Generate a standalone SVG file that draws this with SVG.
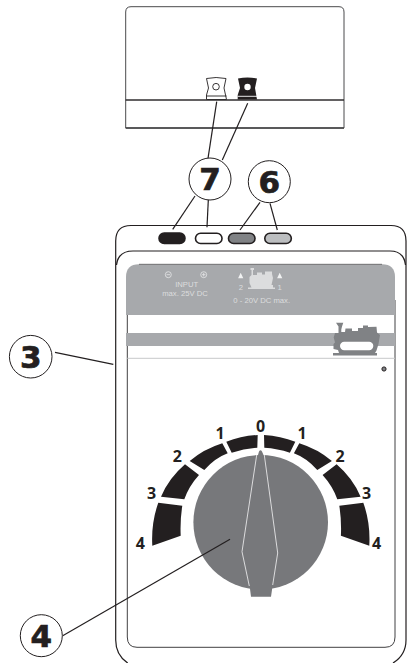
<svg xmlns="http://www.w3.org/2000/svg" width="413" height="663" viewBox="0 0 413 663">
<defs>
<style>
.ln{fill:none;stroke:#231f20;stroke-width:1.2}
.bub{fill:#fff;stroke:#231f20;stroke-width:1}
.big{font-family:"DejaVu Sans",sans-serif;font-weight:bold;font-size:31px;fill:#231f20;stroke:#231f20;stroke-width:0.7;text-anchor:middle}
.num{font-family:"Open Sans",sans-serif;font-weight:bold;font-size:16px;fill:#231f20;text-anchor:middle}
.lab{font-family:"Liberation Sans",Arial,sans-serif;font-size:7.7px;fill:#dcddde;text-anchor:middle}
.seg{fill:#231f20}
.port{stroke:#231f20;stroke-width:1.6}
</style>
</defs>
<rect width="413" height="663" fill="#fff"/>
<g id="top-unit">
<path d="M125.700 100V12Q125.700 6.700 131 6.700H339Q344 6.700 344 12V128H125.700V100H344" fill="#fff" stroke="#4a4a4c" stroke-width="1"/>
<path d="M125.700 128H344" stroke="#414042" stroke-width="1.400"/>
<path d="M125.700 100H344" stroke="#231f20" stroke-width="1"/>
</g>
<g id="top-socket-white">
<path d="M206.500 78.500Q216 76.500 226 78.500L224 88L226.500 99.500H206.500V95L208.500 88Z" fill="#fff" stroke="#231f20" stroke-width="0.900"/>
<circle cx="216" cy="86.700" r="3.300" fill="#fff" stroke="#231f20" stroke-width="0.900"/>
<path d="M206.500 96H226.500" stroke="#231f20" stroke-width="0.900"/>
</g>
<g id="top-socket-black">
<path d="M238 78.500Q247.500 76.500 257 78.500L255 88L257 99.500H237.700L237.700 95L240 88Z" fill="#231f20"/>
<circle cx="247.500" cy="87" r="3.200" fill="#fff"/>
<path d="M237.700 96.300H257" stroke="#fff" stroke-width="0.900"/>
</g>
<g id="body">
<path d="M127.700 663Q115.700 655 115.700 640V241Q115.700 225.500 131 225.500H391Q406 225.500 406 241V640Q406 655 393 663" fill="none" stroke="#231f20" stroke-width="1.200"/>
<path d="M116.500 265Q118 251 133 251H390Q404 251 405.500 265" fill="none" stroke="#231f20" stroke-width="1.200"/>
</g>
<g id="panel">
<path d="M127.300 300V637Q127.300 647.300 137 647.300H385Q395 647.300 395 637V300" fill="#fff" stroke="#414042" stroke-width="1"/>
<path d="M126 315V277Q126 264.300 139 264.300H382Q395 264.300 395 277V315Z" fill="#a7a9ac"/>
<path d="M139 264.300H382" stroke="#58595b" stroke-width="0.800"/>
<rect x="126" y="333" width="269" height="13" fill="#a7a9ac"/>
<path d="M127.300 358.300H395" stroke="#c7c8ca" stroke-width="1"/>
<circle cx="384" cy="369" r="2.100" fill="#808285" stroke="#231f20" stroke-width="1"/>
</g>
<g id="panel-labels">
<circle cx="168.300" cy="274.700" r="3" fill="none" stroke="#e6e7e8" stroke-width="0.800"/>
<path d="M166.500 274.700H170.100" stroke="#e6e7e8" stroke-width="0.800"/>
<circle cx="203.700" cy="274.700" r="3" fill="none" stroke="#e6e7e8" stroke-width="0.800"/>
<path d="M201.900 274.700H205.500M203.700 272.900V276.500" stroke="#e6e7e8" stroke-width="0.800"/>
<text class="lab" x="186.700" y="287">INPUT</text>
<text class="lab" x="185" y="296">max. 25V DC</text>
<text class="lab" x="241" y="289.500">2</text>
<text class="lab" x="279.700" y="289.500">1</text>
<text class="lab" x="261.700" y="302.500">0 - 20V DC max.</text>
<path d="M240.700 272.700L243.300 278.300H238.100ZM279.700 272.700L282.300 278.300H277.100Z" fill="#f1f2f2"/>
<path d="M250.500 268H254V270L253 270V275L257 275V272.500H262V274.500H265V271.500H272V274L273 278L271.500 285H273V287.500H275V289H248V287.500H251.500L249.500 283V277L251.500 275V270H250.500Z" fill="#dcddde"/>
</g>
<g id="loco">
<path d="M336 322.700H343.300L342 326.500L341.300 329.500V332H345L345.500 328.500H352V331H358V328H363V325.500H368V327L376.500 326.700L377 332.500L380 335L378.500 344L376.500 350.500L375 353H377V355.500H333V353H339L338 350L333.500 349V344L335 342.500L333.700 337.500L335 333H338.500V326.500Z" fill="#808285"/>
<rect x="340" y="341.700" width="33.300" height="8.500" rx="4.200" fill="#fff"/>
</g>
<g id="ports">
<rect id="port-black" class="port" x="159" y="233" width="26" height="10.500" rx="5.200" fill="#231f20" stroke-width="1.200"/>
<rect id="port-white" class="port" x="195.500" y="233.200" width="26.500" height="10.300" rx="5.100" fill="#fff"/>
<rect id="port-gray-1" class="port" x="228.500" y="233.200" width="26.500" height="10.300" rx="5.100" fill="#808285"/>
<rect id="port-gray-2" class="port" x="264.800" y="233.200" width="26.500" height="10.300" rx="5.100" fill="#bcbec0"/>
</g>
<g id="scale">
<path class="seg" d="M257.700 435L257.300 447.700Q244 448.500 231.700 452.700L226.300 441.700Q241 436 257.700 435Z"/>
<path class="seg" d="M222.300 443.300L227.700 453.300Q215 458 204.300 470L189.700 461Q204 449 222.300 443.300Z"/>
<path class="seg" d="M185 464.300L199 475Q189 486 184.300 499.300L161 496.700Q169 478 185 464.300Z"/>
<path class="seg" d="M158.300 502.700L182.300 505.700Q180 520 180.700 535.700L152.300 545.700Q151 523 158.300 502.700Z"/>
<path class="seg" d="M264 435L264.300 447.700Q277.600 448.500 289.900 452.700L295.300 441.700Q280.600 436 264 435Z"/>
<path class="seg" d="M299.300 443.300L293.900 453.300Q306.600 458 317.300 470L331.900 461Q317.600 449 299.300 443.300Z"/>
<path class="seg" d="M336.600 464.300L322.600 475Q332.600 486 337.300 499.300L360.600 496.700Q352.600 478 336.600 464.300Z"/>
<path class="seg" d="M363.300 502.700L339.300 505.700Q341.600 520 340.900 535.700L369.300 545.700Q370.600 523 363.300 502.700Z"/>
<text class="num" x="260.700" y="432">0</text>
<text class="num" x="220" y="439">1</text>
<text class="num" x="177.300" y="462">2</text>
<text class="num" x="151.700" y="499">3</text>
<text class="num" x="140.300" y="549">4</text>
<text class="num" x="302" y="439">1</text>
<text class="num" x="340" y="462">2</text>
<text class="num" x="366.700" y="499">3</text>
<text class="num" x="376.700" y="549">4</text>
</g>
<g id="dial">
<circle cx="260.700" cy="522.300" r="67.300" fill="#77787b"/>
<path d="M258 455L259 451.500Q260.500 449 262 451.500L263.500 455L277.700 553L272.700 585L271 596.700H251L249.500 585L242 551.700Z" fill="#77787b"/>
<path d="M256.700 455L242 551.700L249.300 586M264.300 455L277.700 553L272.700 585" fill="none" stroke="#e6e7e8" stroke-width="0.900"/>
</g>
<g id="connectors">
<path class="ln" d="M216.700 101.700L208 158.300"/>
<path class="ln" d="M247.700 103.300L222.300 160"/>
<path class="ln" d="M195 196L172.700 229.300"/>
<path class="ln" d="M208.300 200L207 227.300"/>
<path class="ln" d="M260 202.300L240 230"/>
<path class="ln" d="M270 203.300L277.300 230"/>
<path class="ln" d="M55 352.300L113.300 364.300"/>
<path class="ln" d="M62.700 635.700L230 539.300"/>
</g>
<g id="callout-7"><circle class="bub" cx="210" cy="179" r="21"/><text class="big" x="210" y="190">7</text></g>
<g id="callout-6"><circle class="bub" cx="269.300" cy="181.700" r="21"/><text class="big" x="269.300" y="192.700">6</text></g>
<g id="callout-3"><circle class="bub" cx="30.700" cy="356.700" r="21.300"/><text class="big" x="30.700" y="367.700">3</text></g>
<g id="callout-4"><circle class="bub" cx="41.300" cy="635.700" r="21"/><text class="big" x="41.300" y="646.700">4</text></g>
</svg>
